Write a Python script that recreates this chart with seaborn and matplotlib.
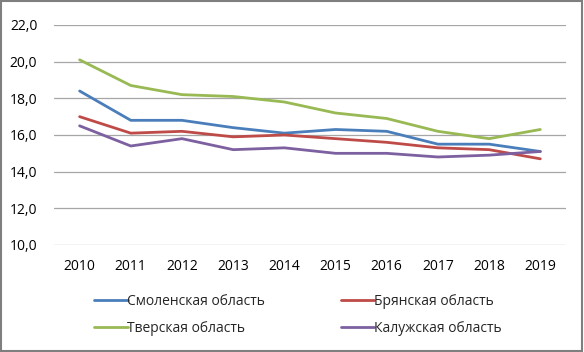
import matplotlib
matplotlib.use("Agg")
import matplotlib.pyplot as plt
import seaborn as sns
import pandas as pd
from matplotlib.patches import Rectangle
from matplotlib.ticker import FuncFormatter

years = [2010, 2011, 2012, 2013, 2014, 2015, 2016, 2017, 2018, 2019]
smolensk = [18.4, 16.8, 16.8, 16.4, 16.1, 16.3, 16.2, 15.5, 15.5, 15.1]
bryansk = [17.0, 16.1, 16.2, 15.9, 16.0, 15.8, 15.6, 15.3, 15.2, 14.7]
tver = [20.1, 18.7, 18.2, 18.1, 17.8, 17.2, 16.9, 16.2, 15.8, 16.3]
kaluga = [16.5, 15.4, 15.8, 15.2, 15.3, 15.0, 15.0, 14.8, 14.9, 15.1]
series_names = ["Смоленская область", "Брянская область", "Тверская область", "Калужская область"]
y_ticks = [10, 12, 14, 16, 18, 20, 22]

colors = ["#4A7EBB", "#BE4B48", "#98B954", "#7D60A0"]

rows = []
for name, vals in zip(series_names, [smolensk, bryansk, tver, kaluga]):
    for i, (yr, v) in enumerate(zip(years, vals)):
        rows.append({"pos": i, "year": yr, "value": v, "series": name})
df = pd.DataFrame(rows)

sns.set_style("white")
plt.rcParams["font.family"] = ["Open Sans", "DejaVu Sans"]

fig = plt.figure(figsize=(5.84, 3.52), dpi=100)
ax = fig.add_axes([0.0925, 0.304, 0.969 - 0.0925, 0.929 - 0.304])

sns.lineplot(data=df, x="pos", y="value", hue="series", hue_order=series_names,
             palette=colors, linewidth=2.0, ax=ax, legend=False)

ax.set_xlim(-0.5, len(years) - 0.5)
ax.set_ylim(10, 22)
ax.set_yticks(y_ticks)
ax.yaxis.set_major_formatter(FuncFormatter(lambda v, p: f"{v:.1f}".replace(".", ",")))
ax.set_xticks(range(len(years)))
ax.set_xticklabels([str(y) for y in years])
ax.grid(axis="y", color="#A6A6A6", linewidth=0.9)
ax.set_axisbelow(True)
for s in ax.spines.values():
    s.set_visible(False)
ax.tick_params(axis="both", length=0, labelsize=10, colors="#000000")
ax.tick_params(axis="x", pad=10)
ax.tick_params(axis="y", pad=12)
ax.set_xlabel("")
ax.set_ylabel("")

handles = [plt.Line2D([], [], color=c, linewidth=2.0) for c in colors]
order = [0, 2, 1, 3]
fig.legend([handles[i] for i in order], [series_names[i] for i in order],
           loc="upper left", bbox_to_anchor=(0.14, 0.2), ncol=2, frameon=False,
           fontsize=10, handlelength=2.4, handletextpad=-0.05, columnspacing=5.5,
           labelspacing=0.85)

fig.patches.append(Rectangle((0.002, 0.003), 0.995, 0.994, transform=fig.transFigure,
                             fill=False, edgecolor="#7F7F7F", linewidth=1.5))

fig.savefig("out.png", dpi=100)
